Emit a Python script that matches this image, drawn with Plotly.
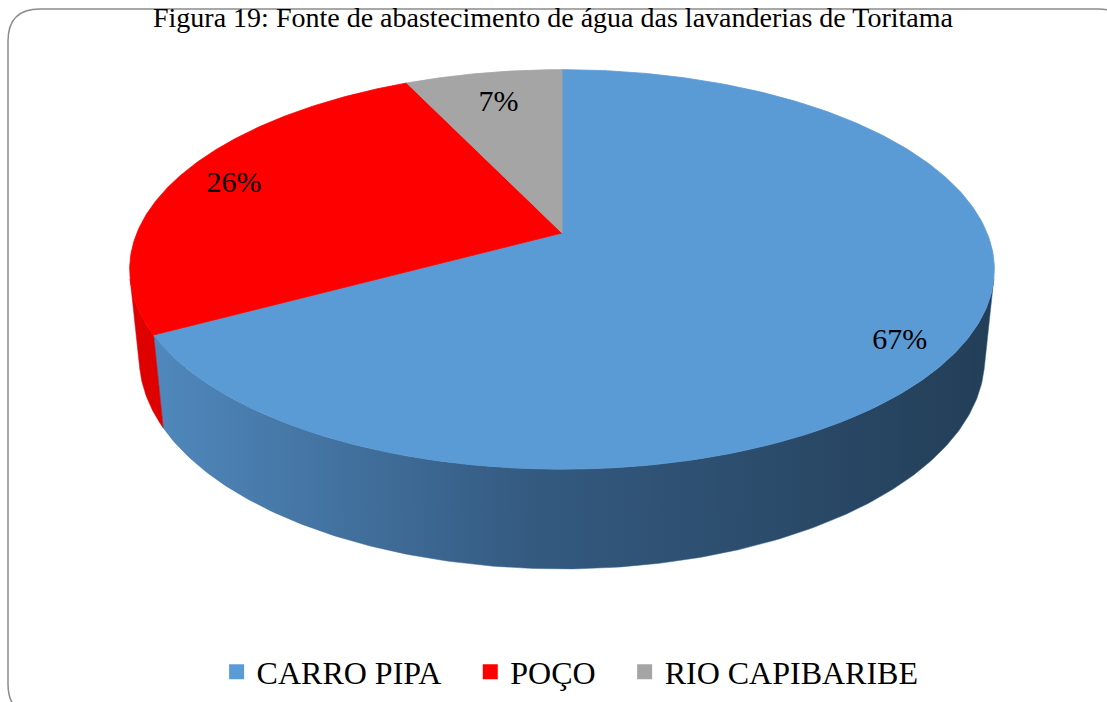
import numpy as np
import plotly.graph_objects as go

# ---------------- data ----------------
categories = ["CARRO PIPA", "POÇO", "RIO CAPIBARIBE"]
values = [67, 26, 7]
title_text = "Figura 19: Fonte de abastecimento de água das lavanderias de Toritama"

# ---------------- style ----------------
top_colors = ["#5b9bd5", "#ff0000", "#a5a5a5"]
side_colors = ["#3a6690", "#df0000", "#848484"]
blue_side_scale = [[0.0, "#5088bd"], [0.45, "#345a80"], [1.0, "#233e57"]]
FONT = "Liberation Serif, Times New Roman, serif"
legend_pad = ["\u00a0\u00a0\u00a0", "\u00a0\u00a0\u00a0", ""]

W, H = 1107, 702
CX, CY = 562, 233          # projected pie centre (pixels)
S = 0.4543                 # sin of view elevation
C = np.sqrt(1 - S * S)
D = 4.886                  # camera distance (unit radius)
F = 2077                   # focal length in px
HGT = 0.2348               # pie thickness (unit radius)
label_r = [0.85, 0.85, 0.78]
label_dy = [18, 0, 0]


def project(theta, y=0.0, r=1.0):
    X = r * np.sin(theta)
    Z = r * np.cos(theta)
    depth = D + C * Z - S * y
    u = F * X / depth
    v = F * (C * y + S * Z) / depth
    return CX + u, CY - v


total = float(sum(values))
bounds = np.concatenate([[0.0], np.cumsum(values) / total]) * 2 * np.pi
sil = np.arccos(1.0 / (D * C))
th_lo, th_hi = np.pi - sil, np.pi + sil

fig = go.Figure()

# side walls (drawn first)
for i in range(len(values)):
    a = max(bounds[i], th_lo)
    b = min(bounds[i + 1], th_hi)
    if a >= b:
        continue
    t = np.linspace(a, b, 200)
    xt, yt = project(t, 0.0)
    xb, yb = project(t[::-1], -HGT)
    xs = np.concatenate([xt, xb, xt[:1]])
    ys = np.concatenate([yt, yb, yt[:1]])
    tr = dict(x=xs, y=ys, mode="lines", fill="toself",
              line=dict(width=0.5, color=side_colors[i]),
              hoverinfo="skip", showlegend=False)
    if i == 0:
        tr["fillgradient"] = dict(type="horizontal", colorscale=blue_side_scale)
    else:
        tr["fillcolor"] = side_colors[i]
    fig.add_trace(go.Scatter(**tr))

# top faces
for i in range(len(values)):
    t = np.linspace(bounds[i], bounds[i + 1], 300)
    xa, ya = project(t, 0.0)
    xs = np.concatenate([[CX], xa, [CX]])
    ys = np.concatenate([[CY], ya, [CY]])
    fig.add_trace(go.Scatter(x=xs, y=ys, mode="lines", fill="toself",
                             fillcolor=top_colors[i],
                             line=dict(width=0.8, color=top_colors[i]),
                             hoverinfo="skip", showlegend=False))

# percentage labels
lx, ly, lt = [], [], []
for i in range(len(values)):
    mid = 0.5 * (bounds[i] + bounds[i + 1])
    x, y = project(mid, 0.0, label_r[i])
    lx.append(x)
    ly.append(y + label_dy[i])
    lt.append(f"{round(100 * values[i] / total)}%")
fig.add_trace(go.Scatter(x=lx, y=ly, mode="text", text=lt,
                         textfont=dict(family=FONT, size=30, color="black"),
                         hoverinfo="skip", showlegend=False))

# legend entries
for i, cat in enumerate(categories):
    fig.add_trace(go.Scatter(x=[None], y=[None], mode="markers",
                             name=cat + legend_pad[i],
                             marker=dict(symbol="square", size=15,
                                         color=top_colors[i])))

# chart border (rounded rectangle, partly outside view)
x0, y0, x1, y1, r = 8, 9, 1130, 716, 32
path = (f"M{x0},{y0 + r} Q{x0},{y0} {x0 + r},{y0} L{x1 - r},{y0} Q{x1},{y0} {x1},{y0 + r} "
        f"L{x1},{y1 - r} Q{x1},{y1} {x1 - r},{y1} L{x0 + r},{y1} Q{x0},{y1} {x0},{y1 - r} Z")
fig.add_shape(type="path", path=path, xref="x", yref="y",
              line=dict(color="#8c8c8c", width=1.5), layer="below")

fig.add_annotation(text=title_text, x=W / 2, y=0, xref="x", yref="y",
                   xanchor="center", yanchor="top", showarrow=False,
                   font=dict(family=FONT, size=28, color="black"))

fig.update_layout(
    width=W, height=H,
    margin=dict(l=0, r=0, t=0, b=0),
    paper_bgcolor="white", plot_bgcolor="white",
    xaxis=dict(range=[0, W], visible=False, fixedrange=True),
    yaxis=dict(range=[H, 0], visible=False, fixedrange=True),
    showlegend=True,
    legend=dict(orientation="h", x=0.515, xanchor="center",
                y=1 - 672 / H, yanchor="middle",
                font=dict(family=FONT, size=32, color="black"),
                itemwidth=30, bgcolor="rgba(0,0,0,0)"),
)

fig.write_html("out.html", config={"displayModeBar": False},
               post_script="document.body.style.margin='0';")
